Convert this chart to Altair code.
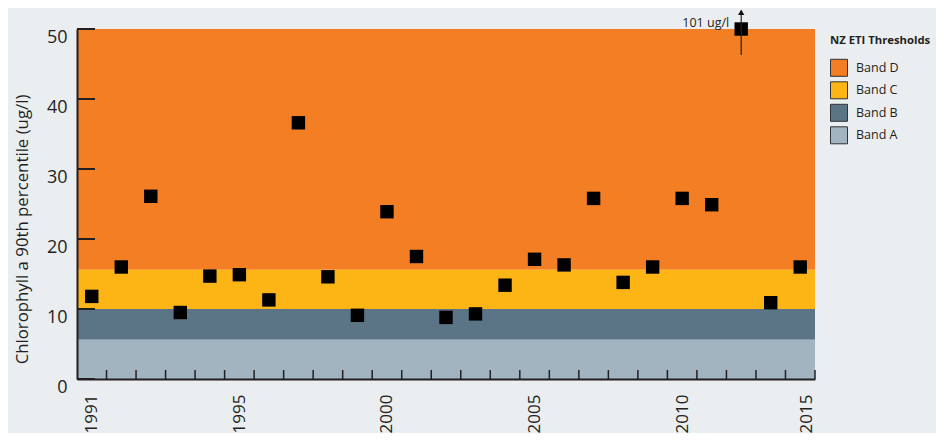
import altair as alt
import pandas as pd

# ---- data ----
years = list(range(1991, 2016))
chl_p90 = [11.8, 16.0, 26.1, 9.5, 14.7, 14.9, 11.3, 36.6, 14.6, 9.1,
           23.9, 17.5, 8.8, 9.3, 13.4, 17.1, 16.3, 25.8, 13.8, 16.0,
           25.8, 24.9, 101.0, 10.9, 16.0]
y_cap = 50

band_names = ["Band D", "Band C", "Band B", "Band A"]
band_lower = [15.6, 10.0, 5.6, 0.0]
band_upper = [50.0, 15.6, 10.0, 5.6]
band_colors = ["#F47E24", "#FDB415", "#5B7586", "#A3B4C1"]

y_tick_values = [0, 10, 20, 30, 40, 50]
x_label_positions = [1991, 1996, 2001, 2006, 2011, 2015.2]
x_label_texts = ["1991", "1995", "2000", "2005", "2010", "2015"]

note_year = [2013]
note_text = ["101 ug/l"]
arrow_low = [46.3]
arrow_high = [52.4]

# ---- tables ----
W, H = 738, 350
TXT = "#231F20"
FONT = "Open Sans"

pts = pd.DataFrame({"year": years, "value": chl_p90})
bands = pd.DataFrame({"band": band_names, "lo": band_lower, "hi": band_upper})
yt = pd.DataFrame({"v": y_tick_values})
xt = pd.DataFrame({"b": [y + 0.5 for y in years]})
note = pd.DataFrame({"year": note_year, "text": note_text, "lo": arrow_low,
                     "hi": arrow_high, "cap": [y_cap]})

label_expr = "''"
for pos, txt in reversed(list(zip(x_label_positions, x_label_texts))):
    label_expr = f"datum.value == {pos} ? '{txt}' : ({label_expr})"

xscale = alt.Scale(domain=[years[0] - 0.5, years[-1] + 0.5], nice=False, zero=False)
yscale = alt.Scale(domain=[0, y_cap], nice=False)

xaxis = alt.Axis(values=x_label_positions, labelExpr=label_expr, ticks=False,
                 grid=False, labelAngle=-90, labelPadding=15, labelFontSize=17,
                 labelFont=FONT, labelColor=TXT, domainColor=TXT, domainWidth=2,
                 title=None, zindex=2)
yaxis = alt.Axis(values=y_tick_values, ticks=False, grid=False, labelPadding=10,
                 labelFontSize=18, labelFont=FONT, labelColor=TXT, labelOffset=8,
                 domainColor=TXT, domainWidth=2, zindex=2,
                 title="Chlorophyll a 90th percentile (ug/l)", titleFont=FONT,
                 titleFontSize=16.8, titleFontWeight="normal", titleColor=TXT,
                 titleX=-55, titleY=200, titleBaseline="middle", titleAngle=-90)

band_layer = alt.Chart(bands).mark_rect().encode(
    x=alt.value(0), x2=alt.value(W),
    y=alt.Y("lo:Q", scale=yscale, axis=yaxis),
    y2="hi:Q",
    fill=alt.Fill("band:N",
                  scale=alt.Scale(domain=band_names, range=band_colors),
                  legend=alt.Legend(title="NZ ETI Thresholds", orient="none",
                                    legendX=W + 15, legendY=6)),
)

ytick_layer = alt.Chart(yt).mark_rule(color=TXT, strokeWidth=2).encode(
    y=alt.Y("v:Q", scale=yscale), x=alt.value(0), x2=alt.value(18))

xtick_layer = alt.Chart(xt).mark_rule(color=TXT, strokeWidth=1.5).encode(
    x=alt.X("b:Q", scale=xscale), y=alt.value(H), y2=alt.value(H - 9))

point_layer = alt.Chart(pts).transform_calculate(
    shown=f"min(datum.value, {y_cap})"
).mark_square(size=180, color="#000000", opacity=1).encode(
    x=alt.X("year:Q", scale=xscale, axis=xaxis),
    y=alt.Y("shown:Q", scale=yscale))

arrow_line = alt.Chart(note).mark_rule(color="#222222", strokeWidth=1.2).encode(
    x=alt.X("year:Q", scale=xscale), y=alt.Y("lo:Q", scale=yscale), y2="hi:Q")

arrow_head = alt.Chart(note).mark_point(shape="triangle-up", filled=True, size=40,
                                        color="#111111", opacity=1).encode(
    x=alt.X("year:Q", scale=xscale), y=alt.Y("hi:Q", scale=yscale))

note_label = alt.Chart(note).mark_text(align="right", baseline="middle", dx=-12, dy=-6,
                                       font=FONT, fontSize=12.5, color=TXT).encode(
    x=alt.X("year:Q", scale=xscale), y=alt.Y("cap:Q", scale=yscale), text="text:N")

chart = alt.layer(band_layer, point_layer, ytick_layer, xtick_layer,
                  arrow_line, arrow_head, note_label).properties(
    width=W, height=H,
    autosize=alt.AutoSizeParams(type="none"),
    padding={"left": 69, "top": 21, "right": 121, "bottom": 54},
    background="#EBEEF1",
).configure_view(stroke=None).configure_legend(
    titleFont=FONT, titleFontSize=11.3, titleFontWeight="bold", titleColor=TXT,
    titlePadding=12.5, labelFont=FONT, labelFontSize=12.5, labelColor=TXT,
    symbolType="square", symbolSize=289, symbolStrokeColor="#333333",
    symbolStrokeWidth=1, symbolOpacity=1, labelOffset=8, rowPadding=0.5,
    padding=0,
)

chart.save("out.html", embed_options={"renderer": "svg", "actions": False})
